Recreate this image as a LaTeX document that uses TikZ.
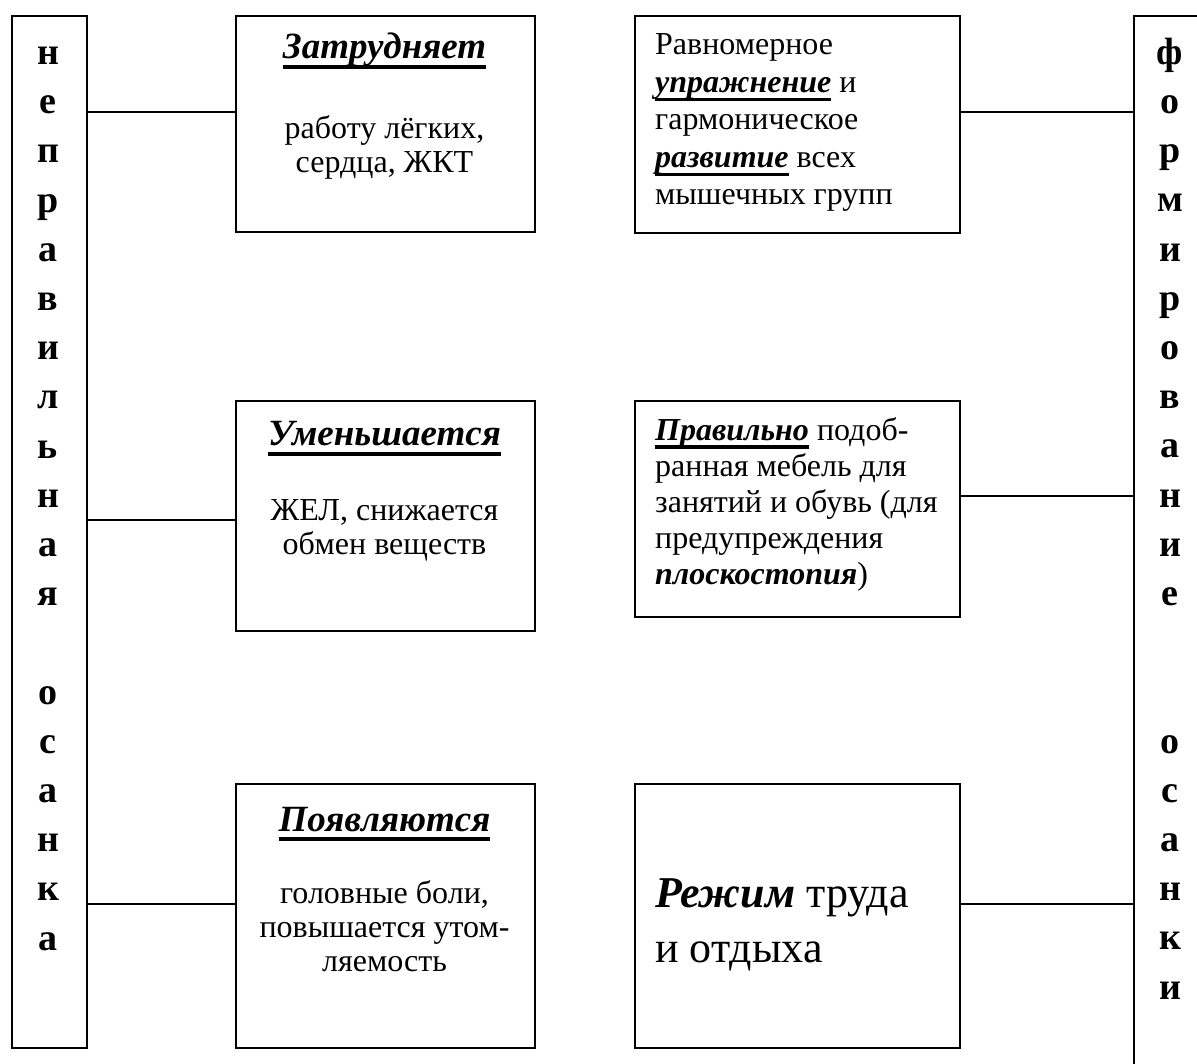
\documentclass[tikz,border=0pt]{standalone}
\usepackage{fontspec}
\setmainfont{Liberation Serif}
\newsavebox\ulbx
\newcommand\ulb[1]{\sbox\ulbx{#1}\rlap{\rule[-0.27em]{\wd\ulbx}{0.1em}}\usebox\ulbx}
\begin{document}
\begin{tikzpicture}[x=1pt,y=-1pt,
  box/.style={draw, line width=1.7pt, inner sep=0pt, anchor=north west},
  link/.style={line width=1.7pt},
  head/.style={inner sep=0pt, anchor=base, font=\fontsize{37}{42}\selectfont\bfseries\itshape},
  body/.style={inner sep=0pt, anchor=base, align=center, font=\fontsize{32}{34}\selectfont},
  rbody/.style={inner sep=0pt, anchor=base west, align=left, font=\fontsize{32}{37.5}\selectfont},
  vert/.style={inner sep=0pt, anchor=base, align=center, font=\fontsize{38}{49.2}\selectfont\bfseries}]
\useasboundingbox (0,0) rectangle (1197,1064);
% tall side boxes
\node[box, minimum width=75pt, minimum height=1032pt] (L) at (11,15) {};
\node[box, minimum width=100pt, minimum height=1080pt] (R) at (1133,15) {};
% left boxes
\node[box, minimum width=299pt, minimum height=216pt] (B1) at (235,15) {};
\node[box, minimum width=299pt, minimum height=230pt] (B2) at (235,400) {};
\node[box, minimum width=299pt, minimum height=264pt] (B3) at (235,783) {};
% right boxes
\node[box, minimum width=325pt, minimum height=217pt] (R1) at (634,15) {};
\node[box, minimum width=325pt, minimum height=216pt] (R2) at (634,400) {};
\node[box, minimum width=325pt, minimum height=264pt] (R3) at (634,783) {};
% connector levels
\coordinate (y1) at (0,112);
\coordinate (y2) at (0,520);
\coordinate (y2r) at (0,496);
\coordinate (y3) at (0,904);
\draw[link] (L.east |- y1) -- (B1.west |- y1);
\draw[link] (L.east |- y2) -- (B2.west |- y2);
\draw[link] (L.east |- y3) -- (B3.west |- y3);
\draw[link] (R1.east |- y1) -- (R.west |- y1);
\draw[link] (R2.east |- y2r) -- (R.west |- y2r);
\draw[link] (R3.east |- y3) -- (R.west |- y3);
% vertical words (anchor = baseline of last line)
\node[vert] (Lt) at (48,950) {н\\е\\п\\р\\а\\в\\и\\л\\ь\\н\\а\\я\\~\\о\\с\\а\\н\\к\\а};
\node[vert] (Rt) at (1170,999) {ф\\о\\р\\м\\и\\р\\о\\в\\а\\н\\и\\е\\~\\~\\о\\с\\а\\н\\к\\и};
% left texts
\node[head] (h1) at (384.5,59) {\ulb{Затрудняет}};
\node[body] (t1) at (384.5,173) {работу лёгких,\\сердца, ЖКТ};
\node[head] (h2) at (384.5,446) {\ulb{Уменьшается}};
\node[body] (t2) at (384.5,554) {ЖЕЛ, снижается\\обмен веществ};
\node[head] (h3) at (384.5,831) {\ulb{Появляются}};
\node[body] (t3) at (384.5,971) {головные боли,\\повышается утом-\\ляемость};
% right texts
\node[rbody] (r1) at (655,205) {Равномерное\\\ulb{\bfseries\itshape упражнение} и\\гармоническое\\\ulb{\bfseries\itshape развитие} всех\\мышечных групп};
\node[rbody, font=\fontsize{32}{36}\selectfont] (r2) at (655,584) {\ulb{\bfseries\itshape Правильно} подоб-\\ранная мебель для\\занятий и обувь (для\\предупреждения\\{\bfseries\itshape плоскостопия})};
\node[inner sep=0pt, anchor=base west, align=left, font=\fontsize{44}{55}\selectfont] (r3) at (655,962) {{\bfseries\itshape Режим} труда\\и отдыха};
\end{tikzpicture}
\end{document}
